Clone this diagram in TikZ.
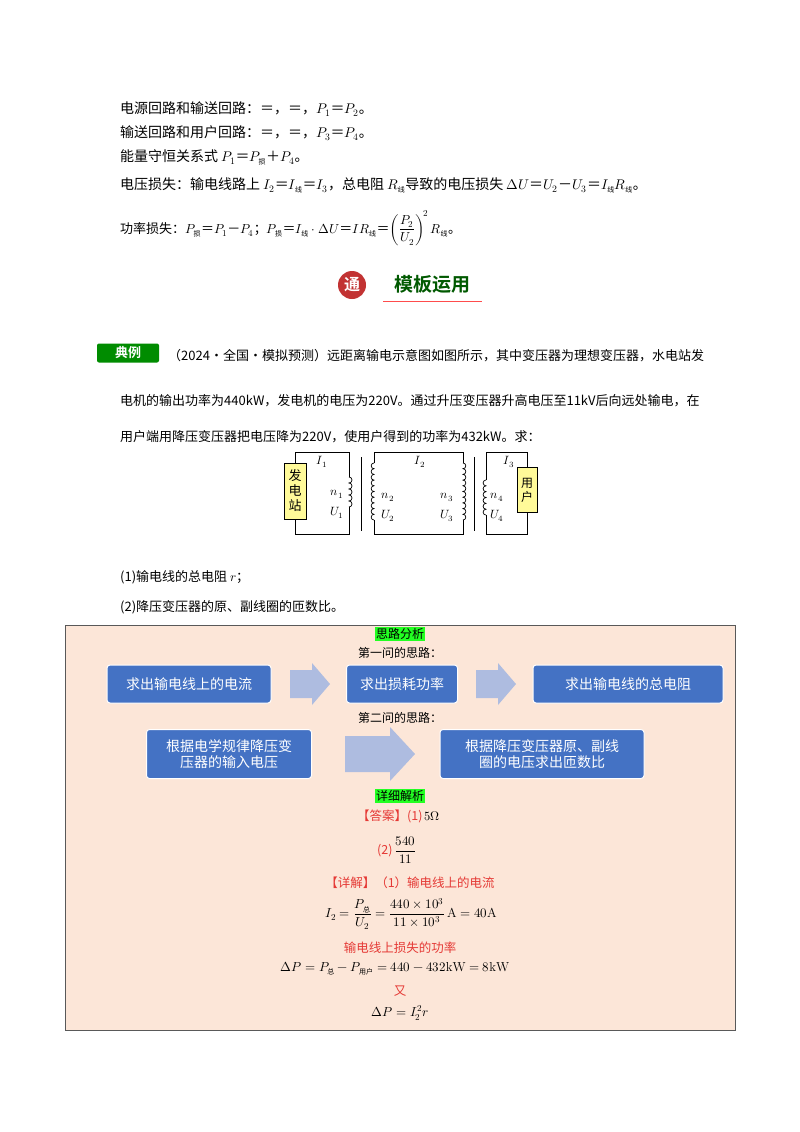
\documentclass[tikz,border=0pt]{standalone}
\usepackage{fontspec}
\usepackage{unicode-math}
\setmathfont{Latin Modern Math}
\newfontfamily\cjk{Noto Sans CJK SC}
\newfontfamily\cjkb{Noto Sans CJK SC Bold}
\definecolor{blu}{HTML}{4472C4}
\definecolor{arr}{HTML}{AEBCE0}
\definecolor{peach}{HTML}{FCE6D8}
\definecolor{rd}{HTML}{E53935}
\definecolor{gr}{HTML}{22FF22}
\newcommand{\zs}[1]{\hbox{\cjk\fontsize{7}{7}\selectfont #1}}
\tikzset{
 body/.style={anchor=base west,inner sep=0pt,font=\cjk\fontsize{13}{15}\selectfont},
 top/.style={anchor=base west,inner sep=0pt,font=\cjk\fontsize{14}{16}\selectfont},
 bluebox/.style={draw=white,line width=1pt,fill=blu,rounded corners=3pt,text=white,align=center,font=\cjk\fontsize{14}{17}\selectfont},
 red/.style={text=rd,font=\cjk\fontsize{12.5}{15}\selectfont,inner sep=0pt},
 wire/.style={line width=0.7pt},
 lab/.style={inner sep=0pt,font=\fontsize{12}{12}\selectfont},
 eq/.style={inner sep=0pt,font=\fontsize{13}{15}\selectfont}
}
\begin{document}
\begin{tikzpicture}[x=1pt,y=-1pt]
\useasboundingbox (0,0) rectangle (800,1132);
\fill[white] (0,0) rectangle (800,1132);
% top text
\node[top] (l1) at (120,113) {电源回路和输送回路：＝，＝，$P_1$＝$P_2$。};
\node[top] (l2) at (120,137) {输送回路和用户回路：＝，＝，$P_3$＝$P_4$。};
\node[top] (l3) at (120,161) {能量守恒关系式 $P_1$＝$P_{\zs{损}}$＋$P_4$。};
\node[top] (l4) at (120,189) {电压损失：输电线路上 $I_2$＝$I_{\zs{线}}$＝$I_3$，总电阻 $R_{\zs{线}}$导致的电压损失 $\Delta U$＝$U_2$－$U_3$＝$I_{\zs{线}}R_{\zs{线}}$。};
\node[body] (l5) at (120,233) {功率损失：$P_{\zs{损}}$＝$P_1$－$P_4$；$P_{\zs{损}}$＝$I_{\zs{线}}\cdot\Delta U$＝$IR_{\zs{线}}$＝$\displaystyle\left(\frac{P_2}{U_2}\right)^{\!2}R_{\zs{线}}$。};
% logo
\fill[red!70!black!80] (352,285) circle (14);
\node[text=white,font=\cjkb\fontsize{16}{16}\selectfont] (tong) at (352,285) {通};
\node[text=green!35!black,font=\cjkb\fontsize{19}{19}\selectfont] (mb) at (432,284) {模板运用};
\draw[red!70,line width=1pt] (383,301) -- (482,301);
% dianli
\node[fill=green!55!black,text=white,rounded corners=2pt,minimum width=62pt,minimum height=19pt,inner sep=0pt,font=\cjkb\fontsize{13}{13}\selectfont] (dl) at (128,353) {典例};
\node[body] (p1) at (168,360) {（2024·全国·模拟预测）远距离输电示意图如图所示，其中变压器为理想变压器，水电站发};
\node[body] (p2) at (120,405) {电机的输出功率为440kW，发电机的电压为220V。通过升压变压器升高电压至11kV后向远处输电，在};
\node[body] (p3) at (120,441) {用户端用降压变压器把电压降为220V，使用户得到的功率为432kW。求：};
% circuit
\draw[wire] (349,477) -- (349,452) -- (295,452) -- (295,534) -- (349,534) -- (349,507);
\draw[wire] (349,477) \foreach \i in {1,...,5}{ arc[start angle=-90,end angle=90,radius=3] };
\draw[wire] (374,463) -- (374,452) -- (463,452) -- (463,463);
\draw[wire] (374,520) -- (374,534) -- (463,534) -- (463,520);
\draw[wire] (374,463) \foreach \i in {1,...,10}{ arc[start angle=-90,end angle=-270,radius=2.85] };
\draw[wire] (463,463) \foreach \i in {1,...,10}{ arc[start angle=-90,end angle=90,radius=2.85] };
\draw[wire] (486,480) -- (486,452) -- (527,452) -- (527,534) -- (486,534) -- (486,515);
\draw[wire] (486,480) \foreach \i in {1,...,6}{ arc[start angle=-90,end angle=-270,radius=2.92] };
\draw[line width=1pt] (361,457) -- (361,531);
\draw[line width=1pt] (474,457) -- (474,531);
\node[draw,fill=yellow!40,minimum width=22pt,minimum height=56pt,inner sep=0pt,align=center,font=\cjk\fontsize{13}{15}\selectfont] (gen) at (295,491) {发\\电\\站};
\node[draw,fill=yellow!40,minimum width=20pt,minimum height=45pt,inner sep=0pt,align=center,font=\cjk\fontsize{12}{14}\selectfont] (usr) at (527,490) {用\\户};
\node[lab] at (322,462) {$I_1$};
\node[lab] at (337,494) {$n_1$};
\node[lab] at (337,513) {$U_1$};
\node[lab] at (388,497) {$n_2$};
\node[lab] at (388,516) {$U_2$};
\node[lab] at (420,462) {$I_2$};
\node[lab] at (447,497) {$n_3$};
\node[lab] at (447,516) {$U_3$};
\node[lab] at (509,462) {$I_3$};
\node[lab] at (497,497) {$n_4$};
\node[lab] at (497,516) {$U_4$};
\node[body] (q1) at (120,581) {(1)输电线的总电阻 $r$；};
\node[body] (q2) at (120,611) {(2)降压变压器的原、副线圈的匝数比。};
% analysis box
\draw[gray!70!black,fill=peach] (65,625) rectangle (735,1030);
\node[fill=gr,inner sep=1pt,font=\cjk\fontsize{12}{14}\selectfont] (sl) at (400,634) {思路分析};
\node[font=\cjk\fontsize{12}{14}\selectfont] (d1) at (400,653) {第一问的思路：};
\node[bluebox,minimum width=164pt,minimum height=38pt] (b1) at (189,684) {求出输电线上的电流};
\fill[arr] (290,670) -- (312,670) -- (312,663) -- (330,684) -- (312,705) -- (312,698) -- (290,698) -- cycle;
\node[bluebox,minimum width=111pt,minimum height=38pt] (b2) at (402,684) {求出损耗功率};
\fill[arr] (476,670) -- (498,670) -- (498,663) -- (516,684) -- (498,705) -- (498,698) -- (476,698) -- cycle;
\node[bluebox,minimum width=190pt,minimum height=38pt] (b3) at (628,684) {求出输电线的总电阻};
\node[font=\cjk\fontsize{12}{14}\selectfont] (d2) at (400,718) {第二问的思路：};
\node[bluebox,minimum width=165pt,minimum height=49pt,font=\cjk\fontsize{14}{16}\selectfont] (b4) at (229,754) {根据电学规律降压变\\压器的输入电压};
\fill[arr] (345,736) -- (390,736) -- (390,727) -- (415,754) -- (390,781) -- (390,772) -- (345,772) -- cycle;
\node[bluebox,minimum width=204pt,minimum height=49pt,font=\cjk\fontsize{14}{16}\selectfont] (b5) at (542,754) {根据降压变压器原、副线\\圈的电压求出匝数比};
\node[fill=gr,inner sep=1pt,font=\cjk\fontsize{12}{14}\selectfont] (xx) at (400,796) {详细解析};
\node[red,anchor=west] (ans) at (357,816) {【答案】(1)\,{\color{black}$5\Omega$}};
\node[red,anchor=west] (a2x) at (377,850) {(2)\,{\color{black}\fontsize{13}{15}\selectfont$\displaystyle\frac{540}{11}$}};
\node[red] (xj) at (410,883) {【详解】（1）输电线上的电流};
\node[eq] (e1) at (411,914) {$\displaystyle I_2=\frac{P_{\zs{总}}}{U_2}=\frac{440\times10^3}{11\times10^3}\,\mathrm{A}=40\mathrm{A}$};
\node[red] (ss) at (400,948) {输电线上损失的功率};
\node[eq] (e2) at (395,969) {$\Delta P=P_{\zs{总}}-P_{\zs{用户}}=440-432\mathrm{kW}=8\mathrm{kW}$};
\node[red] (you) at (400,991) {又};
\node[eq] (e3) at (400,1013) {$\Delta P=I_{2}^{2}r$};
\end{tikzpicture}
\end{document}
